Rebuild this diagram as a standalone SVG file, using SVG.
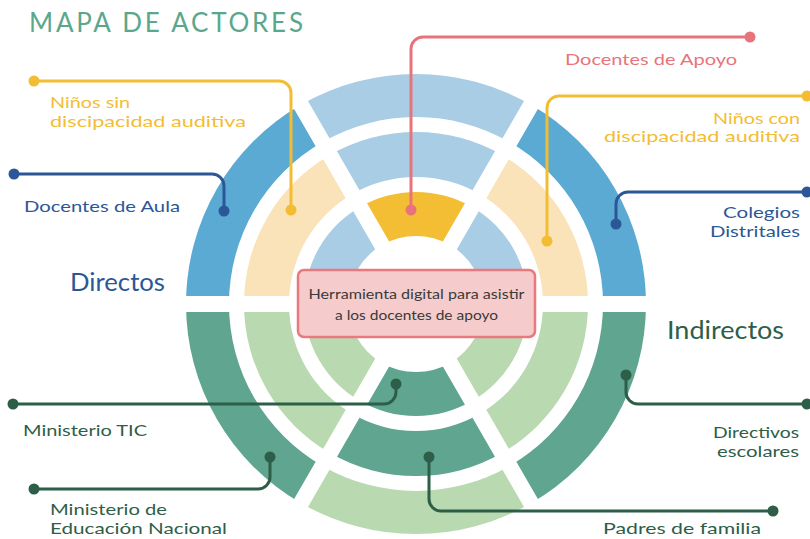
<svg xmlns="http://www.w3.org/2000/svg" width="810" height="539" viewBox="0 0 810 539">
<style>
text{font-family:Lato,"Open Sans","Liberation Sans",sans-serif}
.lbl{font-size:16px}
.big{font-size:25px}
.blue{fill:#2C5796}.yel{fill:#F3BD33}.pink{fill:#E8747B}.grn{fill:#2D5E48}
.c{fill:none;stroke-width:3;stroke-linecap:round}
.db{fill:#5BAAD3}.lb{fill:#A9CDE4}.ly{fill:#FAE3B9}.yy{fill:#F4BE34}.dg{fill:#5FA590}.lg{fill:#B9D9B0}
.gap{stroke:#fff;stroke-width:16;fill:none}
</style>
<rect width="810" height="539" fill="#fff"/>
<text x="29" y="32" font-size="26" fill="#5BA78C" textLength="274" lengthAdjust="spacing">MAPA DE ACTORES</text>

<g id="ring">
<g id="outer">
<path class="db" d="M186,304 A230,230 0 0 1 301,104.81 L322.5,142.06 A187,187 0 0 0 229,304 Z"/>
<path class="lb" d="M301,104.81 A230,230 0 0 1 531,104.81 L509.5,142.06 A187,187 0 0 0 322.5,142.06 Z"/>
<path class="db" d="M531,104.81 A230,230 0 0 1 646,304 L603,304 A187,187 0 0 0 509.5,142.06 Z"/>
<path class="dg" d="M186,304 A230,230 0 0 0 301,503.19 L322.5,465.94 A187,187 0 0 1 229,304 Z"/>
<path class="lg" d="M301,503.19 A230,230 0 0 0 531,503.19 L509.5,465.94 A187,187 0 0 1 322.5,465.94 Z"/>
<path class="dg" d="M531,503.19 A230,230 0 0 0 646,304 L603,304 A187,187 0 0 1 509.5,465.94 Z"/>
</g>
<g id="middle">
<path class="ly" d="M244,304 A172,172 0 0 1 330,155.04 L352.5,194.02 A127,127 0 0 0 289,304 Z"/>
<path class="lb" d="M330,155.04 A172,172 0 0 1 502,155.04 L479.5,194.02 A127,127 0 0 0 352.5,194.02 Z"/>
<path class="ly" d="M502,155.04 A172,172 0 0 1 588,304 L543,304 A127,127 0 0 0 479.5,194.02 Z"/>
<path class="lg" d="M244,304 A172,172 0 0 0 330,452.96 L352.5,413.98 A127,127 0 0 1 289,304 Z"/>
<path class="dg" d="M330,452.96 A172,172 0 0 0 502,452.96 L479.5,413.98 A127,127 0 0 1 352.5,413.98 Z"/>
<path class="lg" d="M502,452.96 A172,172 0 0 0 588,304 L543,304 A127,127 0 0 1 479.5,413.98 Z"/>
</g>
<g id="inner">
<path class="lb" d="M304,304 A112,112 0 0 1 360,207.01 L382,245.11 A68,68 0 0 0 348,304 Z"/>
<path class="yy" d="M360,207.01 A112,112 0 0 1 472,207.01 L450,245.11 A68,68 0 0 0 382,245.11 Z"/>
<path class="lb" d="M472,207.01 A112,112 0 0 1 528,304 L484,304 A68,68 0 0 0 450,245.11 Z"/>
<path class="lg" d="M304,304 A112,112 0 0 0 360,400.99 L382,362.89 A68,68 0 0 1 348,304 Z"/>
<path class="dg" d="M360,400.99 A112,112 0 0 0 472,400.99 L450,362.89 A68,68 0 0 1 382,362.89 Z"/>
<path class="lg" d="M472,400.99 A112,112 0 0 0 528,304 L484,304 A68,68 0 0 1 450,362.89 Z"/>
</g>
<g id="gaps">
<path class="gap" d="M176,304 H656 M416,304 L536,96.2 M416,304 L296,96.2 M416,304 L296,511.8 M416,304 L536,511.8"/>
</g>
</g>

<g id="connectors">
<path class="c" stroke="#F3BD33" d="M34,81 H279 A12,12 0 0 1 291,93 V210"/>
<path class="c" stroke="#2C5796" d="M14,174 H212 A12,12 0 0 1 224,186 V211"/>
<path class="c" stroke="#E8747B" d="M750,37 H423 A12,12 0 0 0 411,49 V210"/>
<path class="c" stroke="#F3BD33" d="M807,96 H559 A12,12 0 0 0 547,108 V241"/>
<path class="c" stroke="#2C5796" d="M807,192 H628 A12,12 0 0 0 616,204 V224"/>
<path class="c" stroke="#2D5E48" d="M626,375 V392 A12,12 0 0 0 638,404 H807"/>
<path class="c" stroke="#2D5E48" d="M429,457 V499 A12,12 0 0 0 441,511 H773"/>
<path class="c" stroke="#2D5E48" d="M13,404 H384 A12,12 0 0 0 396,392 V384"/>
<path class="c" stroke="#2D5E48" d="M34,489 H258 A12,12 0 0 0 270,477 V457"/>
</g>

<g id="center-node">
<rect x="298" y="270" width="237" height="67" rx="6" fill="#F5CBCC" stroke="#E9797F" stroke-width="2.5"/>
<text x="416.5" y="299" font-size="14" fill="#3A3A3A" text-anchor="middle" textLength="216" lengthAdjust="spacingAndGlyphs">Herramienta digital para asistir</text>
<text x="416.5" y="320" font-size="14" fill="#3A3A3A" text-anchor="middle" textLength="163" lengthAdjust="spacingAndGlyphs">a los docentes de apoyo</text>
</g>

<g id="ninos-sin">
<circle cx="34" cy="81" r="5.5" class="yel"/><circle cx="291" cy="210" r="5.5" class="yel"/>
<text class="lbl yel" x="50" y="108" textLength="80" lengthAdjust="spacingAndGlyphs">Niños sin</text>
<text class="lbl yel" x="50" y="127" textLength="196" lengthAdjust="spacingAndGlyphs">discipacidad auditiva</text>
</g>
<g id="docentes-aula">
<circle cx="14" cy="174" r="5.5" class="blue"/><circle cx="224" cy="211" r="5.5" class="blue"/>
<text class="lbl blue" x="24" y="212" font-size="17" textLength="156" lengthAdjust="spacingAndGlyphs">Docentes de Aula</text>
</g>
<g id="directos">
<text class="big blue" x="70" y="291" textLength="95" lengthAdjust="spacingAndGlyphs">Directos</text>
</g>
<g id="docentes-apoyo">
<circle cx="750" cy="37" r="5.5" class="pink"/><circle cx="411" cy="210" r="5.5" class="pink"/>
<text class="lbl pink" x="565" y="65" font-size="17" textLength="172" lengthAdjust="spacingAndGlyphs">Docentes de Apoyo</text>
</g>
<g id="ninos-con">
<circle cx="807" cy="96" r="5.5" class="yel"/><circle cx="547" cy="241" r="5.5" class="yel"/>
<text class="lbl yel" x="800" y="124" text-anchor="end" textLength="87" lengthAdjust="spacingAndGlyphs">Niños con</text>
<text class="lbl yel" x="800" y="142" text-anchor="end" textLength="196" lengthAdjust="spacingAndGlyphs">discipacidad auditiva</text>
</g>
<g id="colegios">
<circle cx="807" cy="192" r="5.5" class="blue"/><circle cx="616" cy="224" r="5.5" class="blue"/>
<text class="lbl blue" x="800" y="218" text-anchor="end" textLength="77" lengthAdjust="spacingAndGlyphs">Colegios</text>
<text class="lbl blue" x="800" y="237" text-anchor="end" textLength="90" lengthAdjust="spacingAndGlyphs">Distritales</text>
</g>
<g id="indirectos">
<text class="big grn" x="667" y="339" font-size="26" textLength="117" lengthAdjust="spacingAndGlyphs">Indirectos</text>
</g>
<g id="directivos">
<circle cx="626" cy="375" r="5.5" class="grn"/><circle cx="807" cy="404" r="5.5" class="grn"/>
<text class="lbl grn" x="799" y="438" text-anchor="end" textLength="86" lengthAdjust="spacingAndGlyphs">Directivos</text>
<text class="lbl grn" x="799" y="457" text-anchor="end" textLength="82" lengthAdjust="spacingAndGlyphs">escolares</text>
</g>
<g id="padres">
<circle cx="429" cy="457" r="5.5" class="grn"/><circle cx="773" cy="511" r="5.5" class="grn"/>
<text class="lbl grn" x="603" y="534" font-size="17" textLength="158" lengthAdjust="spacingAndGlyphs">Padres de familia</text>
</g>
<g id="ministerio-tic">
<circle cx="13" cy="404" r="5.5" class="grn"/><circle cx="396" cy="384" r="5.5" class="grn"/>
<text class="lbl grn" x="23" y="436" font-size="17" textLength="124" lengthAdjust="spacingAndGlyphs">Ministerio TIC</text>
</g>
<g id="ministerio-educacion">
<circle cx="34" cy="489" r="5.5" class="grn"/><circle cx="270" cy="457" r="5.5" class="grn"/>
<text class="lbl grn" x="50" y="515" font-size="14.5" textLength="117" lengthAdjust="spacingAndGlyphs">Ministerio de</text>
<text class="lbl grn" x="50" y="534" font-size="14.5" textLength="177" lengthAdjust="spacingAndGlyphs">Educación Nacional</text>
</g>
</svg>
